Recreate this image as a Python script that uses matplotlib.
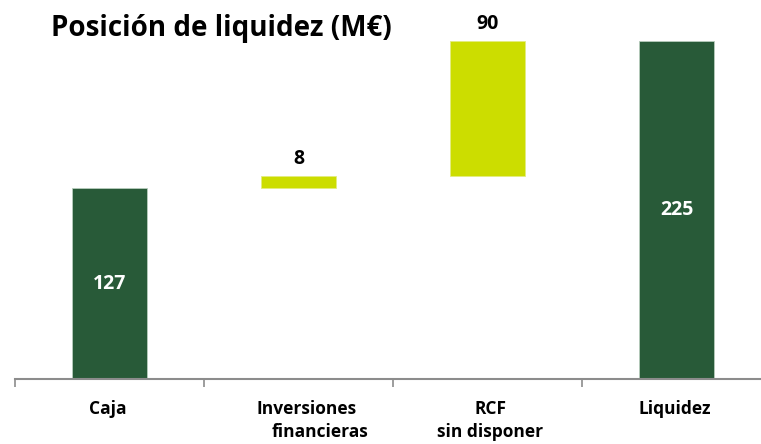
import matplotlib
matplotlib.use("Agg")
import matplotlib.pyplot as plt
import matplotlib.transforms as mtransforms

categories = ["Caja", "Inversiones\nfinancieras", "RCF\nsin disponer", "Liquidez"]
values = [127, 8, 90, 225]
kinds = ["total", "delta", "delta", "total"]
title = "Posición de liquidez (M€)"

dark = "#285A38"
lime = "#CCDD00"

plt.rcParams['font.family'] = ['Open Sans', 'DejaVu Sans']

W, H = 761, 444
fig = plt.figure(figsize=(W / 100, H / 100), dpi=100)
ax = fig.add_axes([15 / W, 65 / H, 756 / W, 375.5 / H])

bottoms, heights, colors = [], [], []
running = 0
for v, k in zip(values, kinds):
    if k == "total":
        bottoms.append(0)
        heights.append(v)
        colors.append(dark)
        running = v
    else:
        bottoms.append(running)
        heights.append(v)
        colors.append(lime)
        running += v

x = list(range(len(categories)))
bars = ax.bar(x, heights, bottom=bottoms, width=0.40, color=colors,
              edgecolor=["#b8cdbd" if c == dark else "#e3ec80" for c in colors],
              linewidth=0.6, zorder=2)

for xi, b, h, k, v in zip(x, bottoms, heights, kinds, values):
    if k == "total":
        ax.text(xi, b + h / 2, str(v), ha="center", va="center", color="white",
                fontsize=14, fontweight="bold")
    else:
        ax.annotate(str(v), (xi, b + h), xytext=(0, 5), textcoords="offset points",
                    ha="center", va="bottom", color="black", fontsize=14,
                    fontweight="bold")

ax.set_xlim(-0.5, len(categories) - 0.5)
ax.set_ylim(0, 250)
for s in ["top", "right", "left"]:
    ax.spines[s].set_visible(False)
ax.spines["bottom"].set_color("#8c8c8c")
ax.spines["bottom"].set_linewidth(1.5)
ax.set_yticks([])
ax.set_xticks([i - 0.5 for i in range(len(categories) + 1)])
ax.set_xticklabels([])
ax.tick_params(axis="x", direction="out", length=6, width=1.2, color="#8c8c8c")

# category labels, line by line
line_offsets = {1: [8, 22], 2: [3, 3]}
for i, lab in enumerate(categories):
    lines = lab.split("\n")
    for j, ln in enumerate(lines):
        dx = line_offsets[i][j] if i in line_offsets else -2
        tr = ax.get_xaxis_transform() + mtransforms.ScaledTranslation(dx / 100, -(35 + 23 * j) / 100, fig.dpi_scale_trans)
        ax.text(i, 0, ln, transform=tr, ha="center", va="baseline",
                fontsize=12.5, fontweight="bold", color="black")

fig.text(221 / W, 1 - 36 / H, title, ha="center", va="baseline",
         fontsize=20, fontweight="bold", color="black")

fig.savefig("out.png", dpi=100)
